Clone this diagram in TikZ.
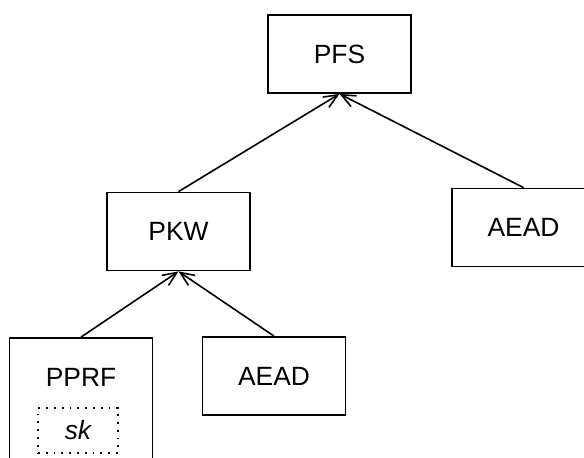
\documentclass[tikz,border=0pt]{standalone}
\usepackage{fontspec}
\setmainfont{Liberation Sans}
\usepackage{tikz}
\usetikzlibrary{arrows.meta}
\usetikzlibrary{positioning}

\begin{document}
\begin{tikzpicture}[x=0.5pt, y=-0.5pt]
        \tikzset{every node/.style={font=\fontsize{13.2}{15}\selectfont},
                box/.style={rectangle, draw, line width=0.9pt, minimum width=71.5pt, minimum height=39pt},
                >={Straight Barb[length=7pt, width=6pt, line width=0.8pt]},
                every edge/.style={draw=black, line width=0.8pt}}

        \useasboundingbox (0,0) rectangle (584,458);

        \node[box] (1) at (339.5, 54) {PFS};
        \node[box] (2) at (178.5, 231.5) {PKW};
        \node[box] (3) at (523.5, 227.5) {AEAD};
        \node[box] (4) at (81, 410) [minimum height=72pt] {};
        \node[box] (5) at (274, 376) {AEAD};
        \node (6) at (81, 377) {PPRF};
        \node[draw, line width=1pt, dash pattern=on 0.9pt off 3pt, minimum width=40pt, minimum height=22.5pt] (7) at (78, 430.5) {\itshape sk};

        \path [->] (2.north) edge node {} (1.south);
        \path [->] (3.north) edge node {} (1.south);
        \path [->] (4.north) edge node {} (2.south);
        \path [->] (5.north) edge node {} (2.south);

\end{tikzpicture}
\end{document}
